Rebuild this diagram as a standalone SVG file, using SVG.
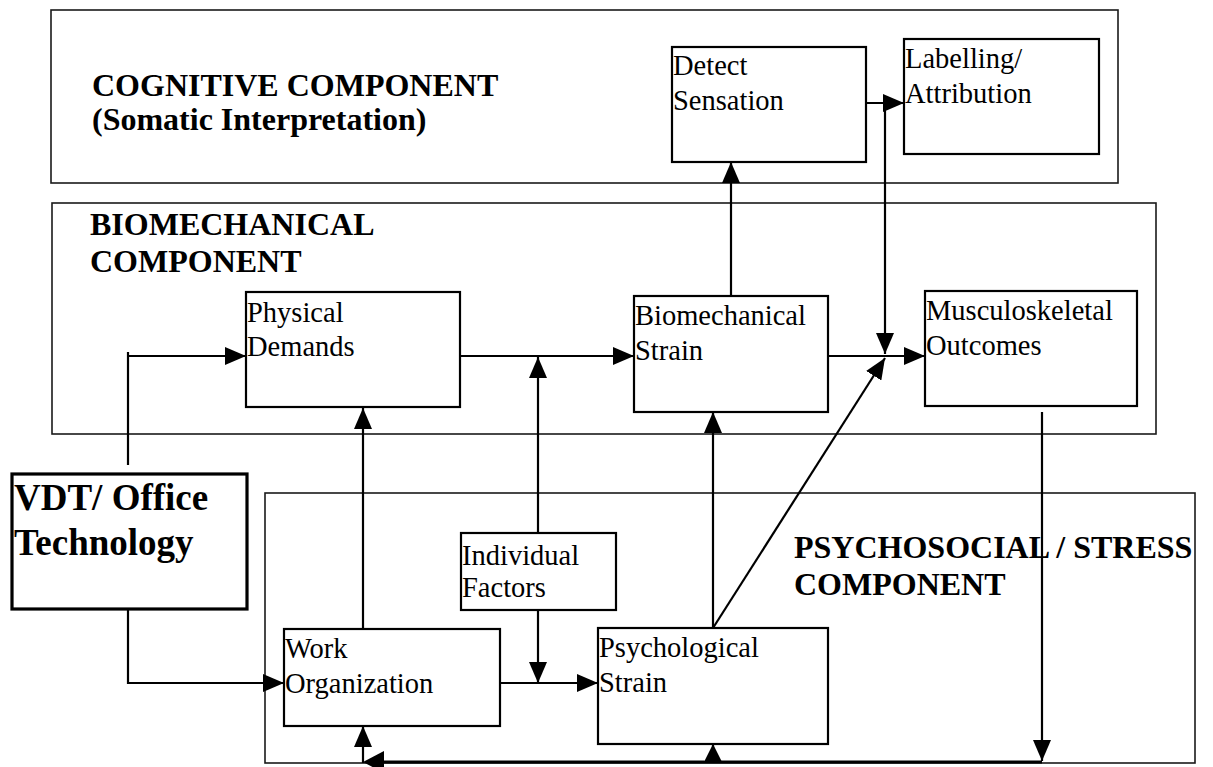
<svg xmlns="http://www.w3.org/2000/svg" width="1213" height="767" viewBox="0 0 1213 767">
  <style>
    .comp { fill: none; stroke: #1a1a1a; stroke-width: 1.6; }
    .box { fill: #ffffff; stroke: #000000; stroke-width: 2.2; }
    .vdt { fill: #ffffff; stroke: #000000; stroke-width: 3.2; }
    .head { font-family: "Liberation Serif", "Times New Roman", serif; font-weight: bold; font-size: 32px; fill: #000; }
    .big { font-family: "Liberation Serif", "Times New Roman", serif; font-weight: bold; font-size: 37px; fill: #000; }
    .lbl { font-family: "Liberation Serif", "Times New Roman", serif; font-size: 28.5px; fill: #000; }
    .wire { fill: none; stroke: #000; stroke-width: 2.2; }
    .wire-thick { fill: none; stroke: #000; stroke-width: 3.2; }
    .arr { marker-end: url(#head); }
  </style>
  <defs>
    <marker id="head" markerUnits="userSpaceOnUse" markerWidth="21" markerHeight="18" refX="21" refY="9" orient="auto">
      <path d="M0,0 L21,9 L0,18 Z" fill="#000"/>
    </marker>
    <marker id="head-s" markerUnits="userSpaceOnUse" markerWidth="17" markerHeight="17" refX="17" refY="8.5" orient="auto">
      <path d="M0,0 L17,8.5 L0,17 Z" fill="#000"/>
    </marker>
  </defs>
  <rect width="1213" height="767" fill="#ffffff"/>

  <!-- component frames -->
  <g id="cognitive-component">
    <rect class="comp" x="51" y="10" width="1067" height="173"/>
    <text class="head" x="92" y="96">COGNITIVE COMPONENT</text>
    <text class="head" x="92" y="130">(Somatic Interpretation)</text>
  </g>
  <g id="biomechanical-component">
    <rect class="comp" x="52" y="203" width="1104" height="231"/>
    <text class="head" x="90" y="235">BIOMECHANICAL</text>
    <text class="head" x="90" y="272">COMPONENT</text>
  </g>
  <g id="psychosocial-component">
    <rect class="comp" x="265" y="493" width="930" height="270"/>
    <text class="head" x="794" y="558">PSYCHOSOCIAL / STRESS</text>
    <text class="head" x="794" y="595">COMPONENT</text>
  </g>

  <!-- connectors -->
  <g id="connectors">
    <!-- VDT to physical demands -->
    <path class="wire" d="M128,465 V352"/>
    <path class="wire arr" d="M127,356 H246"/>
    <!-- physical demands to biomechanical strain -->
    <path class="wire arr" d="M460,356 H634"/>
    <!-- individual factors moderate physical demands path -->
    <path class="wire arr" d="M538,533 V357"/>
    <!-- biomechanical strain to detect sensation -->
    <path class="wire arr" d="M731,296 V162"/>
    <!-- detect sensation to labelling -->
    <path class="wire arr" d="M866,103 H904"/>
    <!-- labelling feeds into outcomes junction -->
    <path class="wire arr" d="M885,103 V354"/>
    <!-- biomechanical strain to musculoskeletal outcomes -->
    <path class="wire" d="M828,356 H885"/>
    <path class="wire arr" d="M885,356 H925"/>
    <!-- psychological strain to outcomes junction -->
    <path class="wire arr" d="M713,628 L885,358"/>
    <!-- psychological strain to biomechanical strain -->
    <path class="wire arr" d="M713,628 V412"/>
    <!-- work organization to physical demands -->
    <path class="wire arr" d="M363,629 V408"/>
    <!-- VDT to work organization -->
    <path class="wire arr" d="M128,609 V683 H284"/>
    <!-- work organization to psychological strain -->
    <path class="wire arr" d="M500,683 H598"/>
    <!-- individual factors moderate psychological path -->
    <path class="wire arr" d="M538,610 V683"/>
    <!-- outcomes feedback loop -->
    <path class="wire arr" d="M1042,412 V761"/>
    <path class="wire-thick" d="M1042,762 H380"/>
    <path d="M384,751 L363,762 L384,773 Z" fill="#000"/>
    <path class="wire" style="marker-end:url(#head-s)" d="M713,762 V744"/>
    <path class="wire arr" d="M363,763 V726"/>
  </g>

  <!-- nodes -->
  <g id="detect-sensation">
    <rect class="box" x="672" y="47" width="194" height="115"/>
    <text class="lbl" x="673" y="75">Detect</text>
    <text class="lbl" x="673" y="110">Sensation</text>
  </g>
  <g id="labelling-attribution">
    <rect class="box" x="904" y="39" width="195" height="115"/>
    <text class="lbl" x="905" y="68">Labelling/</text>
    <text class="lbl" x="905" y="103">Attribution</text>
  </g>
  <g id="physical-demands">
    <rect class="box" x="246" y="292" width="214" height="115"/>
    <text class="lbl" x="247" y="322">Physical</text>
    <text class="lbl" x="247" y="356">Demands</text>
  </g>
  <g id="biomechanical-strain">
    <rect class="box" x="634" y="296" width="194" height="116"/>
    <text class="lbl" x="635" y="325">Biomechanical</text>
    <text class="lbl" x="635" y="360">Strain</text>
  </g>
  <g id="musculoskeletal-outcomes">
    <rect class="box" x="925" y="291" width="212" height="115"/>
    <text class="lbl" x="926" y="320">Musculoskeletal</text>
    <text class="lbl" x="926" y="355">Outcomes</text>
  </g>
  <g id="vdt-office-technology">
    <rect class="vdt" x="12" y="474" width="235" height="135"/>
    <text class="big" x="14" y="510">VDT/ Office</text>
    <text class="big" x="14" y="555">Technology</text>
  </g>
  <g id="individual-factors">
    <rect class="box" x="461" y="533" width="155" height="77"/>
    <text class="lbl" x="462" y="565">Individual</text>
    <text class="lbl" x="462" y="597">Factors</text>
  </g>
  <g id="work-organization">
    <rect class="box" x="284" y="629" width="216" height="97"/>
    <text class="lbl" x="285" y="658">Work</text>
    <text class="lbl" x="285" y="693">Organization</text>
  </g>
  <g id="psychological-strain">
    <rect class="box" x="598" y="628" width="230" height="116"/>
    <text class="lbl" x="599" y="657">Psychological</text>
    <text class="lbl" x="599" y="692">Strain</text>
  </g>
</svg>
